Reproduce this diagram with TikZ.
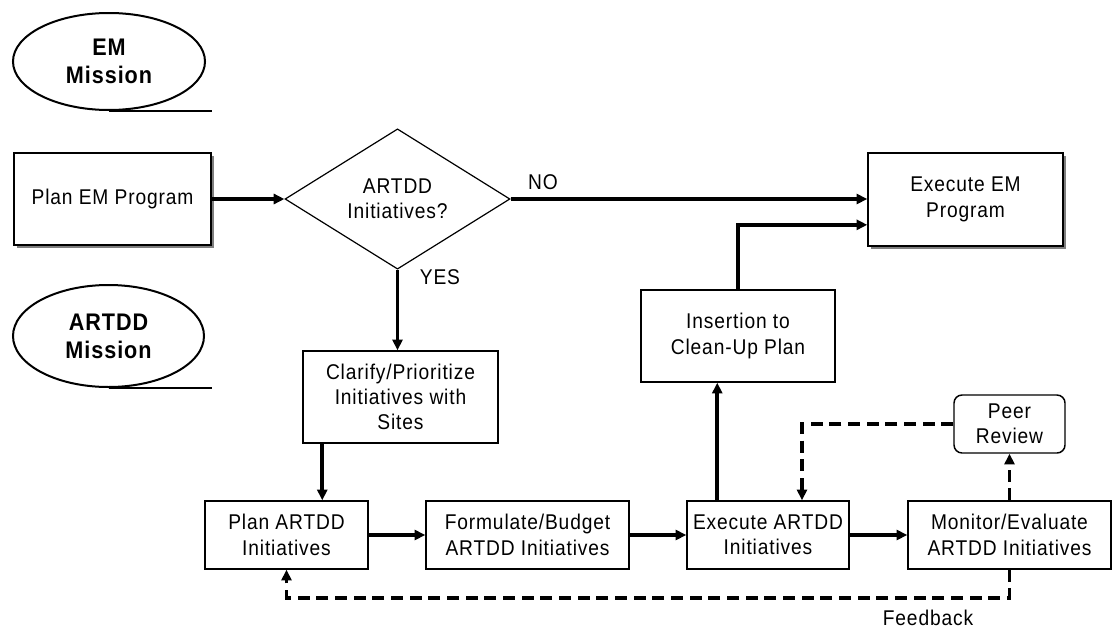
\documentclass[tikz,border=0pt]{standalone}
\usepackage{fontspec}
\setmainfont{Liberation Sans}[FakeStretch=0.9,LetterSpace=4]
\usetikzlibrary{arrows.meta,shapes.geometric,shadows}
\definecolor{ink}{HTML}{000000}
\definecolor{shade}{HTML}{7F7F7F}

\begin{document}
\begin{tikzpicture}[x=0.75pt,y=-0.75pt,
  every node/.style={font=\fontsize{16pt}{19pt}\selectfont,text=ink},
  box/.style={draw=ink,line width=1.1pt,align=center,inner sep=0pt},
  shadowbox/.style={box,fill=white,drop shadow={shadow xshift=2.5pt,shadow yshift=-2.5pt,fill=shade,opacity=1}},
  mission/.style={ellipse,draw=ink,line width=1.5pt,align=center,inner sep=0pt,font=\fontsize{18pt}{21pt}\selectfont\bfseries},
  flow/.style={line width=2.8pt,-{Triangle[length=8pt,width=7.5pt]}},
  review/.style={flow,dash pattern=on 9pt off 5pt}]
  \useasboundingbox (0,0) rectangle (1120,628);
  \node[mission,minimum width=144pt,minimum height=72.75pt] (emmis) at (109,61.5) {EM\\Mission};
  \draw[line width=1.6pt] (emmis.south) -- ++(103,0);
  \node[mission,minimum width=143.25pt,minimum height=76.5pt] (artddmis) at (108.5,336) {ARTDD\\Mission};
  \draw[line width=1.6pt] (artddmis.south) -- ++(103,0);
  \node[shadowbox,minimum width=147.75pt,minimum height=69pt] (planem) at (112.5,199) {Plan EM Program};
  \node[diamond,draw=ink,line width=0.9pt,align=center,inner sep=0pt,minimum width=168.75pt,minimum height=97.5pt] (artddq) at (397.5,199) {ARTDD\\Initiatives?};
  \node[shadowbox,minimum width=146.25pt,minimum height=69.75pt] (execem) at (965.5,199.5) {Execute EM\\Program};
  \node[box,minimum width=146.25pt,minimum height=69pt] (clarify) at (400.5,397) {Clarify/Prioritize\\Initiatives with\\Sites};
  \node[box,minimum width=145.5pt,minimum height=69pt] (insertion) at (738,336) {Insertion to\\Clean-Up Plan};
  \foreach \n/\x/\w/\t in {planartdd/286.5/163/{Plan ARTDD\\Initiatives}, formulate/527.5/203/{Formulate/Budget\\ARTDD Initiatives},
                           execartdd/768/162/{Execute ARTDD\\Initiatives}, monitor/1009.5/203/{Monitor/Evaluate\\ARTDD Initiatives}}{
    \node[box,minimum width=\w*0.75pt,minimum height=51pt] (\n) at (\x,535) {\t};
  }
  \node[box,rounded corners=6pt,minimum width=83.25pt,minimum height=43.5pt] (peer) at (1009.5,424) {Peer\\Review};
  \draw[flow] (planem.east) -- (artddq.west);
  \draw[flow] (artddq.east) -- (artddq.east -| execem.west);
  \draw[flow] (artddq.south) -- (artddq.south |- clarify.north);
  \draw[flow] ([xshift=15pt]clarify.south west) -- ([xshift=15pt]clarify.south west |- planartdd.north);
  \draw[flow] (planartdd) -- (formulate);
  \draw[flow] (formulate) -- (execartdd);
  \draw[flow] (execartdd) -- (monitor);
  \draw[flow] ([xshift=23.25pt]execartdd.north west) -- ([xshift=23.25pt]execartdd.north west |- insertion.south);
  \draw[flow] (insertion.north) |- ([yshift=-19pt]execem.west);
  \draw[review] (monitor) -- (peer);
  \draw[review] (peer.west) -| ([xshift=25.5pt]execartdd.north);
  \draw[review] (monitor.south) -- ++(0,28) -| (planartdd.south);
  \node (no) at (543,182) {NO};
  \node (yes) at (440,277) {YES};
  \node (feedback) at (928,618) {Feedback};
\end{tikzpicture}
\end{document}
